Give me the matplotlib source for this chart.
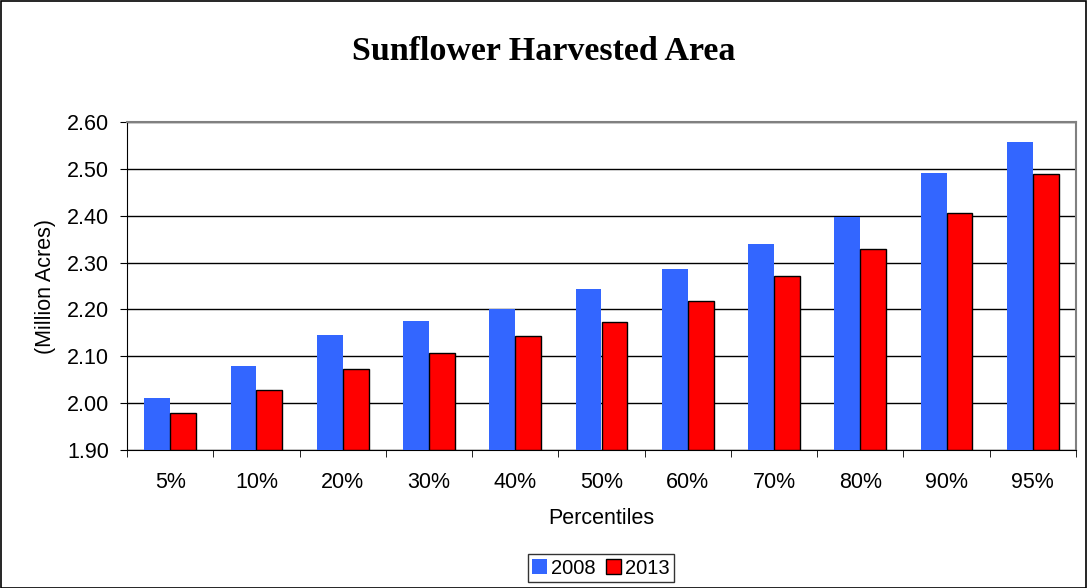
"""
Sunflower harvested area by percentile, 2008 vs 2013
"""

import numpy as np
import matplotlib
matplotlib.use('Agg')
import matplotlib.pyplot as plt
from matplotlib.patches import Rectangle

percentiles = ['5%', '10%', '20%', '30%', '40%', '50%', '60%', '70%', '80%', '90%', '95%']
area_2008 = [2.012, 2.079, 2.145, 2.176, 2.200, 2.243, 2.287, 2.339, 2.397, 2.492, 2.558]
area_2013 = [1.978, 2.028, 2.072, 2.106, 2.144, 2.174, 2.218, 2.271, 2.330, 2.405, 2.490]

plt.rcParams['font.family'] = ['Liberation Sans', 'DejaVu Sans']
FS = 15.5

fig = plt.figure(figsize=(10.88, 5.88), dpi=100)
ax = fig.add_axes([127 / 1088, 1 - 450 / 588, (1076 - 127) / 1088, (450 - 122) / 588])

x = np.arange(len(percentiles))
w = 0.3
ax.bar(x - w / 2, np.array(area_2008) - 1.9, w, bottom=1.9, color='#3366FF',
       label='2008', zorder=3)
ax.bar(x + w / 2, np.array(area_2013) - 1.9, w, bottom=1.9, color='#FF0000',
       edgecolor='black', linewidth=1.0, label='2013', zorder=3)

ax.set_ylim(1.9, 2.6)
ax.set_xlim(-0.5, len(percentiles) - 0.5)
ax.set_yticks(np.arange(1.9, 2.61, 0.1))
ax.set_yticklabels([f'{v:.2f}' for v in np.arange(1.9, 2.61, 0.1)], fontsize=FS)
ax.yaxis.grid(True, color='black', linewidth=1.0, zorder=0)
ax.set_xticks(x)
ax.set_xticklabels(percentiles, fontsize=FS)
ax.set_xticks(np.arange(-0.5, len(percentiles)), minor=True)
ax.tick_params(axis='x', which='major', length=0, pad=16)
ax.tick_params(axis='x', which='minor', length=5, direction='out', color='black')
ax.tick_params(axis='y', length=5, direction='out', color='black', pad=8)

for side in ['top', 'right']:
    ax.spines[side].set_color('#808080')
    ax.spines[side].set_linewidth(1.5)
for side in ['left', 'bottom']:
    ax.spines[side].set_color('black')

ax.set_ylabel('(Million Acres)', fontsize=FS, labelpad=8)
ax.set_xlabel('Percentiles', fontsize=FS, labelpad=11)

fig.text(0.5, 1 - 51 / 588, 'Sunflower Harvested Area', ha='center', va='center',
         fontsize=24.5, fontweight='bold', family='Liberation Serif')

leg = fig.legend(loc='center', bbox_to_anchor=(601 / 1088, 1 - 568 / 588), ncol=2,
                 fontsize=14.5, frameon=True, fancybox=False, edgecolor='black',
                 handlelength=0.75, handleheight=0.75, handletextpad=0.2,
                 columnspacing=0.5, borderpad=0.2, borderaxespad=0)
leg.get_frame().set_linewidth(1.0)

fig.patches.append(Rectangle((0.0005, 0.0005), 0.998, 0.998, transform=fig.transFigure,
                             fill=False, edgecolor='black', linewidth=1.2))

fig.savefig('out.png', dpi=100)
